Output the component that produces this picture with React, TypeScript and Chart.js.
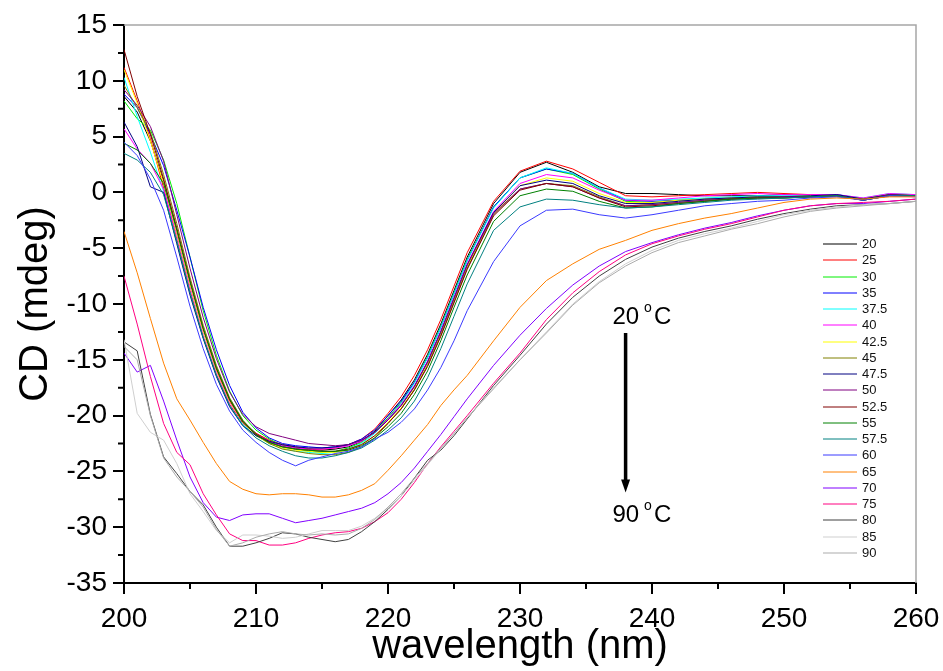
import React, { useEffect, useRef } from "react";
import { Chart, registerables } from "chart.js";

Chart.register(...registerables);

// ---- data -------------------------------------------------------------
const wavelengths = [
  200, 201, 202, 203, 204, 205, 206, 207, 208, 209,
  210, 211, 212, 213, 214, 215, 216, 217, 218, 219,
  220, 221, 222, 223, 224, 225, 226,
  228, 230, 232, 234, 236, 238, 240, 242, 244, 246, 248, 250, 252, 254, 256, 258, 260,
];

const temperatureLabels = [
  "20", "25", "30", "35", "37.5", "40", "42.5", "45", "47.5", "50",
  "52.5", "55", "57.5", "60", "65", "70", "75", "80", "85", "90",
];

const cd20 = [
  8.6, 7.2, 4.6, 1.0, -3.4, -8.1, -12.3, -15.8, -18.6, -20.5,
  -21.6, -22.3, -22.7, -22.9, -23.0, -23.1, -23.0, -22.8, -22.3, -21.4,
  -20.0, -18.6, -16.8, -14.5, -11.8, -8.8, -5.8,
  -1.0, 1.8, 2.7, 1.8, 0.5, -0.1, -0.1, -0.2, -0.3, -0.3, -0.3, -0.2, -0.3, -0.2, -0.6, -0.2, -0.3,
];
const cd25 = [
  11.2, 8.2, 4.8, 0.4, -4.2, -8.8, -12.9, -16.3, -19.0, -20.7,
  -21.6, -22.2, -22.6, -22.8, -23.0, -23.0, -22.9, -22.6, -22.1, -21.2,
  -19.8, -18.3, -16.4, -14.1, -11.4, -8.4, -5.4,
  -0.8, 1.9, 2.8, 2.1, 0.9, -0.3, -0.4, -0.3, -0.2, -0.1, 0.0, -0.1, -0.2, -0.3, -0.6, -0.2, -0.3,
];
const cd30 = [
  8.2, 6.6, 5.6, 2.9, -1.0, -5.8, -10.6, -14.6, -17.8, -20.0,
  -21.3, -22.1, -22.7, -23.0, -23.2, -23.3, -23.2, -22.9, -22.4, -21.5,
  -20.2, -18.8, -17.0, -14.7, -12.0, -9.0, -6.0,
  -1.3, 1.3, 2.1, 1.6, 0.3, -0.8, -0.9, -0.7, -0.6, -0.5, -0.4, -0.4, -0.3, -0.3, -0.6, -0.2, -0.2,
];
const cd35 = [
  8.8, 7.6, 5.2, 2.4, -1.6, -5.8, -10.3, -14.1, -17.3, -19.7,
  -21.1, -22.0, -22.5, -22.7, -22.8, -22.9, -22.8, -22.6, -22.1, -21.3,
  -20.0, -18.7, -17.0, -14.8, -12.1, -9.1, -6.1,
  -1.3, 1.3, 2.1, 1.7, 0.4, -0.7, -0.8, -0.7, -0.6, -0.5, -0.4, -0.4, -0.3, -0.2, -0.6, -0.2, -0.3,
];
const cd37_5 = [
  10.3, 6.8, 3.6, 0.1, -4.4, -9.0, -13.0, -16.4, -19.1, -20.8,
  -21.8, -22.5, -22.9, -23.2, -23.3, -23.4, -23.3, -23.0, -22.5, -21.6,
  -20.3, -18.9, -17.1, -14.8, -12.1, -9.1, -6.1,
  -1.4, 1.3, 2.2, 1.7, 0.4, -0.6, -0.7, -0.6, -0.5, -0.4, -0.3, -0.3, -0.3, -0.2, -0.5, -0.1, -0.2,
];
const cd40 = [
  5.7, 3.9, 2.6, 0.3, -3.8, -8.4, -12.5, -16.0, -18.8, -20.6,
  -21.7, -22.3, -22.7, -22.9, -23.0, -23.0, -22.9, -22.7, -22.3, -21.5,
  -20.3, -19.0, -17.3, -15.1, -12.4, -9.4, -6.4,
  -1.7, 0.8, 1.6, 1.3, 0.2, -0.7, -0.7, -0.5, -0.3, -0.2, -0.1, -0.2, -0.2, -0.2, -0.5, -0.1, -0.2,
];
const cd42_5 = [
  11.0, 8.0, 4.6, 0.8, -3.6, -8.2, -12.4, -15.9, -18.7, -20.6,
  -21.8, -22.5, -22.9, -23.1, -23.2, -23.3, -23.3, -23.1, -22.6, -21.8,
  -20.6, -19.3, -17.6, -15.4, -12.7, -9.7, -6.7,
  -1.9, 0.6, 1.3, 1.0, -0.1, -0.9, -0.9, -0.7, -0.6, -0.5, -0.4, -0.4, -0.3, -0.3, -0.6, -0.2, -0.3,
];
const cd45 = [
  9.6, 7.6, 5.4, 1.6, -2.8, -7.6, -11.9, -15.5, -18.4, -20.4,
  -21.7, -22.5, -23.0, -23.2, -23.4, -23.5, -23.5, -23.3, -22.8, -22.0,
  -20.7, -19.4, -17.7, -15.5, -12.8, -9.8, -6.8,
  -2.0, 0.3, 0.8, 0.6, -0.4, -1.2, -1.1, -0.9, -0.7, -0.6, -0.5, -0.4, -0.4, -0.3, -0.6, -0.2, -0.3,
];
const cd47_5 = [
  6.3, 4.1, 0.5, 0.0, -4.6, -9.2, -13.1, -16.5, -19.2, -20.9,
  -21.8, -22.3, -22.6, -22.8, -22.9, -22.9, -22.8, -22.6, -22.2, -21.5,
  -20.4, -19.1, -17.4, -15.2, -12.5, -9.5, -6.5,
  -1.8, 0.6, 1.1, 0.8, -0.3, -1.0, -1.0, -0.8, -0.6, -0.5, -0.4, -0.4, -0.3, -0.2, -0.6, -0.2, -0.3,
];
const cd50 = [
  9.2, 7.8, 5.9, 2.8, -2.0, -6.8, -11.2, -14.9, -17.9, -19.9,
  -21.0, -21.6, -21.9, -22.2, -22.5, -22.6, -22.7, -22.6, -22.2, -21.5,
  -20.4, -19.1, -17.4, -15.2, -12.5, -9.5, -6.5,
  -1.9, 0.3, 0.8, 0.5, -0.5, -1.2, -1.1, -0.9, -0.7, -0.6, -0.5, -0.4, -0.4, -0.3, -0.7, -0.2, -0.3,
];
const cd52_5 = [
  12.8, 8.6, 5.2, 1.2, -3.2, -7.9, -12.2, -15.8, -18.6, -20.6,
  -21.7, -22.4, -22.8, -23.0, -23.1, -23.2, -23.2, -23.0, -22.6, -21.8,
  -20.7, -19.4, -17.7, -15.6, -12.9, -9.9, -6.9,
  -2.1, 0.2, 0.8, 0.5, -0.5, -1.3, -1.2, -1.0, -0.8, -0.6, -0.5, -0.5, -0.4, -0.3, -0.7, -0.3, -0.3,
];
const cd55 = [
  4.4, 3.8, 2.6, 0.8, -3.4, -8.0, -12.2, -15.7, -18.5, -20.5,
  -21.7, -22.4, -22.8, -23.0, -23.1, -23.2, -23.2, -23.1, -22.7, -22.0,
  -21.0, -19.8, -18.1, -16.0, -13.3, -10.3, -7.4,
  -2.6, -0.3, 0.3, 0.1, -0.8, -1.4, -1.3, -1.0, -0.8, -0.6, -0.5, -0.5, -0.4, -0.3, -0.7, -0.3, -0.3,
];
const cd57_5 = [
  3.5, 2.9, 1.8, -0.2, -4.4, -9.0, -13.0, -16.4, -19.1, -20.9,
  -22.0, -22.7, -23.2, -23.6, -23.8, -23.8, -23.6, -23.3, -22.9, -22.2,
  -21.3, -20.2, -18.7, -16.6, -14.0, -11.1, -8.2,
  -3.4, -1.3, -0.6, -0.7, -1.1, -1.4, -1.3, -1.1, -0.9, -0.7, -0.6, -0.5, -0.4, -0.3, -0.7, -0.3, -0.3,
];
const cd60 = [
  4.5, 3.3, 1.2, -1.6, -5.8, -10.2, -14.0, -17.2, -19.6, -21.3,
  -22.4, -23.3, -24.0, -24.5, -24.0, -23.7, -23.4, -23.2, -22.8, -22.1,
  -21.5, -20.6, -19.4, -17.7, -15.7, -13.3, -10.6,
  -6.2, -3.0, -1.6, -1.5, -2.0, -2.3, -2.0, -1.6, -1.2, -1.0, -0.8, -0.7, -0.5, -0.4, -0.7, -0.3, -0.4,
];
const cd65 = [
  -3.5, -7.2, -11.3, -15.3, -18.5, -20.4, -22.4, -24.3, -25.9, -26.6,
  -27.0, -27.1, -27.0, -27.0, -27.1, -27.3, -27.3, -27.1, -26.7, -26.1,
  -24.9, -23.6, -22.2, -20.8, -19.1, -17.7, -16.4,
  -13.3, -10.3, -7.9, -6.4, -5.1, -4.3, -3.4, -2.8, -2.3, -1.9, -1.4, -0.9, -0.6, -0.5, -0.6, -0.4, -0.4,
];
const cd70 = [
  -14.4, -16.1, -15.5, -18.7, -22.2, -25.5, -27.8, -29.1, -29.4, -28.9,
  -28.8, -28.8, -29.2, -29.6, -29.4, -29.2, -28.9, -28.6, -28.3, -27.8,
  -27.0, -26.0, -24.7, -23.2, -21.7, -20.1, -18.5,
  -15.5, -12.8, -10.4, -8.3, -6.6, -5.3, -4.5, -3.8, -3.2, -2.7, -2.1, -1.6, -1.2, -1.0, -1.0, -0.8, -0.6,
];
const cd75 = [
  -7.5, -11.8, -16.5, -20.7, -23.3, -24.4, -27.0, -28.9, -30.6, -31.2,
  -31.2, -31.6, -31.6, -31.4, -31.0, -30.7, -30.5, -30.4, -30.1, -29.5,
  -28.7, -27.5, -26.0, -24.3, -22.8, -21.4, -20.0,
  -17.1, -14.4, -11.4, -9.0, -7.1, -5.6, -4.6, -3.9, -3.3, -2.8, -2.2, -1.6, -1.2, -1.0, -0.9, -0.8, -0.6,
];
const cd80 = [
  -13.4, -14.2, -19.9, -23.7, -25.2, -26.8, -28.0, -30.0, -31.7, -31.7,
  -31.4, -31.0, -30.5, -30.6, -30.9, -31.1, -31.3, -31.1, -30.4, -29.5,
  -28.4, -27.2, -25.6, -24.0, -23.1, -21.8, -20.3,
  -17.3, -14.6, -11.8, -9.4, -7.5, -6.0, -4.9, -4.1, -3.5, -3.0, -2.4, -1.9, -1.5, -1.2, -1.1, -1.0, -0.8,
];
const cd85 = [
  -13.2, -19.8, -21.5, -22.2, -24.3, -27.0, -28.6, -30.3, -31.4, -30.7,
  -30.7, -30.8, -31.0, -30.9, -30.6, -30.3, -30.3, -30.3, -29.9, -29.2,
  -28.3, -27.2, -25.8, -24.4, -23.0, -21.6, -20.2,
  -17.5, -15.0, -12.5, -10.0, -8.0, -6.4, -5.2, -4.3, -3.7, -3.2, -2.6, -2.0, -1.6, -1.3, -1.1, -1.0, -0.8,
];
const cd90 = [
  -13.8, -15.0, -20.0, -23.8, -25.5, -26.8, -28.2, -30.2, -31.7, -31.4,
  -30.9, -30.6, -30.4, -30.6, -30.7, -30.6, -30.7, -30.6, -30.1, -29.3,
  -28.2, -27.0, -25.6, -24.3, -22.9, -21.6, -20.2,
  -17.6, -15.0, -12.6, -10.1, -8.1, -6.6, -5.4, -4.5, -3.9, -3.3, -2.8, -2.2, -1.7, -1.4, -1.2, -1.0, -0.8,
];

const seriesValues = [
  cd20, cd25, cd30, cd35, cd37_5, cd40, cd42_5, cd45, cd47_5, cd50,
  cd52_5, cd55, cd57_5, cd60, cd65, cd70, cd75, cd80, cd85, cd90,
];

const seriesColors = [
  "#000000", "#ff0000", "#00ee00", "#0000ff", "#00ffff", "#ff00ff", "#ffff00", "#808000", "#000080", "#800080",
  "#800000", "#008000", "#008080", "#3a3aff", "#ff8000", "#8000ff", "#ff0080", "#404040", "#cfcfcf", "#ababab",
];

const annotationTop = "20";
const annotationBottom = "90";
const annotationX = 237; // nm (left edge of the text)
const arrowX = 238;
const annotationTopY = -11.2;
const arrowTopY = -12.6;
const arrowTipY = -26.9;
const annotationBottomY = -28.9;

const FONT = "'Liberation Sans', Arial, Helvetica, sans-serif";

const overlayPlugin = {
  id: "overlay",
  afterDraw(chart: any) {
    const { ctx, chartArea, scales } = chart;
    const xs = scales.x;
    const ys = scales.y;
    ctx.save();

    // top & right frame
    ctx.strokeStyle = "#a6a6a6";
    ctx.lineWidth = 1.5;
    ctx.beginPath();
    ctx.moveTo(chartArea.left, chartArea.top);
    ctx.lineTo(chartArea.right, chartArea.top);
    ctx.lineTo(chartArea.right, chartArea.bottom);
    ctx.stroke();

    // minor ticks
    ctx.strokeStyle = "#000";
    ctx.lineWidth = 2;
    ctx.beginPath();
    for (let v = ys.min + 2.5; v < ys.max; v += 5) {
      const py = ys.getPixelForValue(v);
      ctx.moveTo(chartArea.left, py);
      ctx.lineTo(chartArea.left - 6, py);
    }
    for (let v = xs.min + 5; v < xs.max; v += 10) {
      const px = xs.getPixelForValue(v);
      ctx.moveTo(px, chartArea.bottom);
      ctx.lineTo(px, chartArea.bottom + 6);
    }
    ctx.stroke();

    // legend
    const legendTop = 244;
    const legendStep = 16.26;
    ctx.font = `13px ${FONT}`;
    ctx.textBaseline = "middle";
    ctx.textAlign = "left";
    chart.data.datasets.forEach((ds: any, i: number) => {
      const y = Math.round(legendTop + i * legendStep);
      ctx.strokeStyle = ds.borderColor;
      ctx.lineWidth = 1;
      ctx.beginPath();
      ctx.moveTo(823, y);
      ctx.lineTo(857, y);
      ctx.stroke();
      ctx.fillStyle = "#111";
      ctx.fillText(ds.label, 862, y + 0.5);
    });

    // annotation
    const drawTemp = (t: string, yVal: number) => {
      const x0 = xs.getPixelForValue(annotationX);
      const y0 = ys.getPixelForValue(yVal);
      ctx.fillStyle = "#000";
      ctx.textBaseline = "middle";
      ctx.font = `24px ${FONT}`;
      ctx.fillText(t, x0, y0);
      let x = x0 + ctx.measureText(t).width + 5;
      ctx.font = `14px ${FONT}`;
      ctx.fillText("o", x, y0 - 9);
      x += ctx.measureText("o").width + 2;
      ctx.font = `24px ${FONT}`;
      ctx.fillText("C", x, y0);
    };
    drawTemp(annotationTop, annotationTopY);
    drawTemp(annotationBottom, annotationBottomY);

    const ax = xs.getPixelForValue(arrowX);
    const yTop = ys.getPixelForValue(arrowTopY);
    const yTip = ys.getPixelForValue(arrowTipY);
    ctx.strokeStyle = "#000";
    ctx.lineWidth = 3.5;
    ctx.beginPath();
    ctx.moveTo(ax, yTop);
    ctx.lineTo(ax, yTip - 10);
    ctx.stroke();
    ctx.fillStyle = "#000";
    ctx.beginPath();
    ctx.moveTo(ax - 4.5, yTip - 13);
    ctx.lineTo(ax + 4.5, yTip - 13);
    ctx.lineTo(ax, yTip);
    ctx.closePath();
    ctx.fill();

    ctx.restore();
  },
};

export default function App() {
  const canvasRef = useRef<HTMLCanvasElement | null>(null);

  useEffect(() => {
    if (!canvasRef.current) return;
    Chart.defaults.font.family = FONT;
    const datasets = seriesValues.map((vals, i) => ({
      label: temperatureLabels[i],
      data: wavelengths.map((x, j) => ({ x, y: vals[j] })),
      borderColor: seriesColors[i],
      backgroundColor: seriesColors[i],
      borderWidth: 1,
      pointRadius: 0,
      tension: 0,
      fill: false,
      order: -i,
    }));

    const chart = new Chart(canvasRef.current, {
      type: "line",
      data: { datasets },
      options: {
        animation: false,
        responsive: false,
        maintainAspectRatio: false,
        events: [],
        layout: { padding: { top: 25, right: 27, left: 0, bottom: 0 } },
        plugins: {
          legend: { display: false },
          tooltip: { enabled: false },
          title: { display: false },
        },
        scales: {
          x: {
            type: "linear",
            min: 200,
            max: 260,
            afterFit: (scale: any) => {
              scale.height = 88;
              scale.paddingLeft = 0;
              scale.paddingRight = 0;
            },
            ticks: {
              stepSize: 10,
              autoSkip: false,
              maxRotation: 0,
              padding: 8,
              color: "#000",
              font: { size: 28, family: FONT },
            },
            grid: {
              display: true,
              drawOnChartArea: false,
              drawTicks: true,
              tickLength: 11,
              color: "#000",
              lineWidth: 2,
            },
            border: { display: true, color: "#000", width: 2 },
            title: {
              display: true,
              text: "wavelength (nm)",
              color: "#000",
              font: { size: 40, family: FONT },
              padding: { top: 0, bottom: 0 },
            },
          },
          y: {
            type: "linear",
            min: -35,
            max: 15,
            afterFit: (scale: any) => {
              scale.width = 124;
              scale.paddingTop = 0;
              scale.paddingBottom = 0;
            },
            ticks: {
              stepSize: 5,
              autoSkip: false,
              padding: 6,
              color: "#000",
              font: { size: 28, family: FONT },
            },
            grid: {
              display: true,
              drawOnChartArea: false,
              drawTicks: true,
              tickLength: 11,
              color: "#000",
              lineWidth: 2,
            },
            border: { display: true, color: "#000", width: 2 },
            title: {
              display: true,
              text: "CD (mdeg)",
              color: "#000",
              font: { size: 40, family: FONT },
              padding: { top: 12, bottom: 0 },
            },
          },
        },
      },
      plugins: [overlayPlugin],
    });

    return () => chart.destroy();
  }, []);

  return (
    <div style={{ position: "absolute", left: 0, top: 0, width: 943, height: 671, background: "#fff" }}>
      <canvas ref={canvasRef} width={943} height={671} style={{ display: "block", width: 943, height: 671 }} />
    </div>
  );
}
